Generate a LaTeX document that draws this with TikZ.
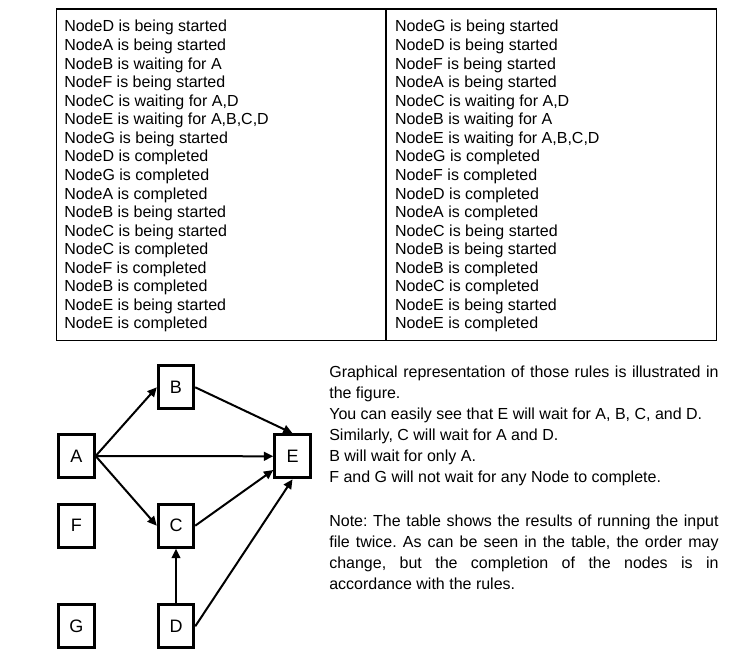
\documentclass[tikz,border=0pt]{standalone}
\usepackage{fontspec}
\setmainfont{Liberation Sans}
\usepackage{tikz}
\usetikzlibrary{arrows.meta}
\usetikzlibrary{positioning}
\frenchspacing
\tikzstyle{job}=[draw,fill=white,rectangle,line width=2.25pt,minimum width=26.6pt,minimum height=32.3pt,inner sep=0pt,font=\fontsize{13.5pt}{16pt}\selectfont]
\tikzstyle{row}=[anchor=base west,inner sep=0pt,font=\fontsize{12pt}{14pt}\selectfont]
\tikzstyle{para}=[anchor=base west,inner sep=0pt,text width=292pt,align=justify,font=\fontsize{12pt}{15.75pt}\selectfont]

\begin{document}
\begin{tikzpicture}[x=0.75pt,y=-0.75pt,line width=1.5pt,>={Triangle[length=7pt,width=6.5pt]}]
\useasboundingbox (0,0) rectangle (746,670);

% the two runs
\draw[line width=1.2pt] (56.5,9.3) rectangle (716.5,340.5);
\draw[line width=1.2pt] (385.8,9.3) -- (385.8,340.5);
\foreach \t [count=\i] in {NodeD is being started,NodeA is being started,NodeB is waiting for A,
  NodeF is being started,{NodeC is waiting for A,D},{NodeE is waiting for A,B,C,D},NodeG is being started,
  NodeD is completed,NodeG is completed,NodeA is completed,NodeB is being started,
  NodeC is being started,NodeC is completed,NodeF is completed,NodeB is completed,
  NodeE is being started,NodeE is completed}
  \node[row] (l\i) at (63.3,{32+18.56*(\i-1)}) {\t};
\foreach \t [count=\i] in {NodeG is being started,NodeD is being started,NodeF is being started,
  NodeA is being started,{NodeC is waiting for A,D},NodeB is waiting for A,{NodeE is waiting for A,B,C,D},
  NodeG is completed,NodeF is completed,NodeD is completed,NodeA is completed,
  NodeC is being started,NodeB is being started,NodeB is completed,NodeC is completed,
  NodeE is being started,NodeE is completed}
  \node[row] (r\i) at (394,{32+18.56*(\i-1)}) {\t};

% the graph
\node[job] (A) at (76.4,456) {A};
\node[job] (B) at (176,387.3) {B};
\node[job] (C) at (176,525.7) {C};
\node[job] (E) at (292.5,456.3) {E};
\node[job] (F) at (76.4,525.7) {F};
\node[job] (G) at (76.4,626.3) {G};
\node[job] (D) at (176,626.3) {D};

\draw[->] (A.east) -- (B.west);
\draw[->] (A.east) -- (E.west);
\draw[->] (A.east) -- (C.west);
\draw[->] (B.east) -- (E.north);
\draw[->] (C.east) -- (E);
\draw[->] (D.north) -- (C.south);
\draw[->] (D.east) -- (E.south);

% explanation
\node[para] (txt1) at (328.3,377.3) {Graphical representation of those rules is illustrated in\linebreak
the figure.\\
You can easily see that E will wait for A, B, C, and D.\\
Similarly, C will wait for A and D.\\
B will wait for only A.\\
F and G will not wait for any Node to complete.};
\node[para] (txt2) at (328.3,526.7) {Note: The table shows the results of running the input\linebreak
file twice. As can be seen in the table, the order may\linebreak
change, but the completion of the nodes is in\linebreak
accordance with the rules.};
\end{tikzpicture}
\end{document}
